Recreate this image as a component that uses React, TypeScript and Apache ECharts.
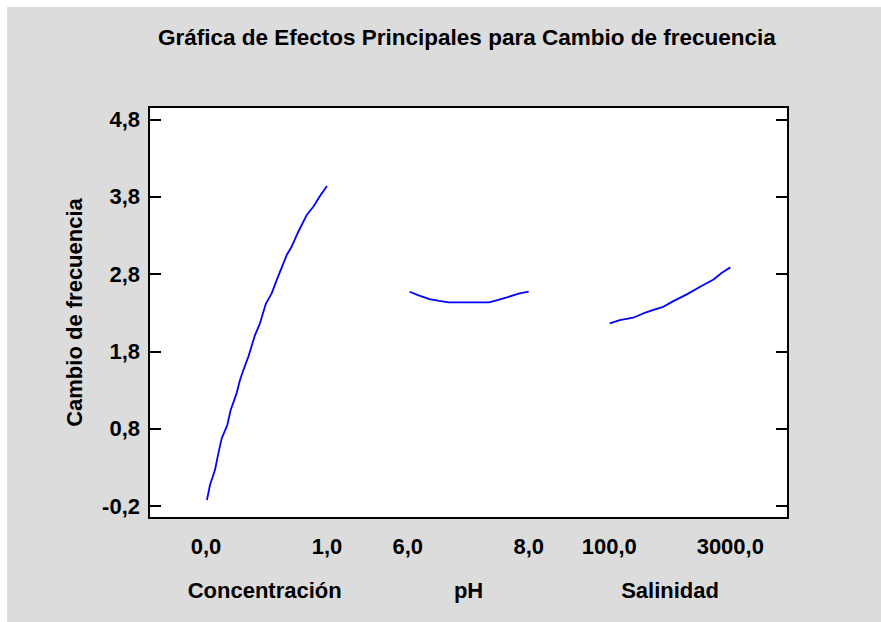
import React, { useEffect, useRef } from "react";
import * as echarts from "echarts";

// Factor ranges (low, high) and their tick labels
const factorNames = ["Concentración", "pH", "Salinidad"];
const xTickLabels = ["0,0", "1,0", "6,0", "8,0", "100,0", "3000,0"];
const yTicks = [-0.2, 0.8, 1.8, 2.8, 3.8, 4.8];

// Concentración (0..1)
const concX = [0.008, 0.033, 0.074, 0.102, 0.13, 0.176, 0.204, 0.253, 0.281, 0.309, 0.35, 0.405, 0.446, 0.496, 0.543, 0.584, 0.667, 0.708, 0.763, 0.832, 0.887, 0.942, 1.0];
const concY = [-0.122, 0.072, 0.265, 0.481, 0.675, 0.847, 1.041, 1.257, 1.429, 1.558, 1.731, 2.011, 2.162, 2.421, 2.55, 2.722, 3.045, 3.153, 3.347, 3.563, 3.67, 3.808, 3.938];

// pH (6..8)
const phX = [6.03, 6.17, 6.36, 6.52, 6.68, 7.0, 7.34, 7.44, 7.64, 7.85, 8.0];
const phY = [2.571, 2.528, 2.476, 2.454, 2.433, 2.433, 2.433, 2.454, 2.498, 2.55, 2.571];

// Salinidad (100..3000)
const salX = [112, 353, 673, 913, 1195, 1395, 1636, 1958, 2278, 2598, 2800, 3000];
const salY = [2.162, 2.205, 2.235, 2.29, 2.343, 2.376, 2.45, 2.537, 2.635, 2.73, 2.817, 2.886];

// layout of the three panels along a shared virtual x axis
const segStart = [0, 1.667, 3.333];
const ranges: [number, number][] = [[0, 1], [6, 8], [100, 3000]];
const toU = (i: number, v: number) => segStart[i] + (v - ranges[i][0]) / (ranges[i][1] - ranges[i][0]);

const tickU = [toU(0, 0), toU(0, 1), toU(1, 6), toU(1, 8), toU(2, 100), toU(2, 3000)];
const nameU = [0.485, 2.17, 3.835];

const FONT = 'Arial, "Liberation Sans", sans-serif';
const LABEL = { fontSize: 22, fontWeight: "bold", color: "#000", fontFamily: FONT };

export default function App() {
  const ref = useRef<HTMLDivElement>(null);
  useEffect(() => {
    document.body.style.margin = "0";
    if (!ref.current) return;
    const chart = echarts.init(ref.current, null, { renderer: "svg" });
    const mk = (i: number, xs: number[], ys: number[]) => ({
      type: "line",
      xAxisIndex: 0,
      yAxisIndex: 0,
      data: xs.map((x, k) => [toU(i, x), ys[k]]),
      showSymbol: false,
      symbol: "none",
      lineStyle: { color: "#0000ff", width: 1.8 },
      itemStyle: { color: "#0000ff" },
    });
    const findIdx = (arr: number[], v: number) => {
      let best = 0;
      arr.forEach((a, k) => { if (Math.abs(a - v) < Math.abs(arr[best] - v)) best = k; });
      return best;
    };
    const yTickStyle = { show: true, inside: true, length: 12, lineStyle: { color: "#000", width: 2 }, customValues: yTicks };
    chart.setOption({
      animation: false,
      backgroundColor: "#dcdcdc",
      title: {
        text: "Gráfica de Efectos Principales para Cambio de frecuencia",
        left: 146,
        top: 14,
        textStyle: { fontSize: 22.5, fontWeight: "bold", color: "#000", fontFamily: FONT },
      },
      grid: {
        left: 142,
        top: 100,
        width: 639,
        height: 411,
        show: true,
        backgroundColor: "#ffffff",
        borderColor: "#000",
        borderWidth: 2,
      },
      xAxis: [
        {
          type: "value",
          min: -0.471,
          max: 4.81,
          position: "bottom",
          axisLine: { show: false, onZero: false },
          axisTick: { show: false },
          splitLine: { show: false },
          axisLabel: {
            customValues: tickU,
            formatter: (v: number) => xTickLabels[findIdx(tickU, v)],
            margin: 17,
            ...LABEL,
          },
        },
        {
          type: "value",
          min: -0.471,
          max: 4.81,
          position: "bottom",
          axisLine: { show: false, onZero: false },
          axisTick: { show: false },
          splitLine: { show: false },
          axisLabel: {
            customValues: nameU,
            formatter: (v: number) => factorNames[findIdx(nameU, v)],
            margin: 61,
            ...LABEL,
          },
        },
      ],
      yAxis: [
        {
          type: "value",
          min: -0.355,
          max: 4.96,
          position: "left",
          axisLine: { show: false, onZero: false },
          splitLine: { show: false },
          axisTick: yTickStyle,
          axisLabel: {
            customValues: yTicks,
            formatter: (v: number) => v.toFixed(1).replace(".", ","),
            margin: 9,
            ...LABEL,
          },
          name: "Cambio de frecuencia",
          nameLocation: "middle",
          nameGap: 64,
          nameTextStyle: { ...LABEL },
        },
        {
          type: "value",
          min: -0.355,
          max: 4.96,
          position: "right",
          axisLine: { show: false, onZero: false },
          splitLine: { show: false },
          axisTick: yTickStyle,
          axisLabel: { show: false },
        },
      ],
      series: [mk(0, concX, concY), mk(1, phX, phY), mk(2, salX, salY)],
    });
    return () => chart.dispose();
  }, []);
  return (
    <div style={{ width: 881, height: 622, background: "#ffffff", position: "relative" }}>
      <div ref={ref} style={{ position: "absolute", left: 7, top: 7, width: 874, height: 615 }} />
    </div>
  );
}
